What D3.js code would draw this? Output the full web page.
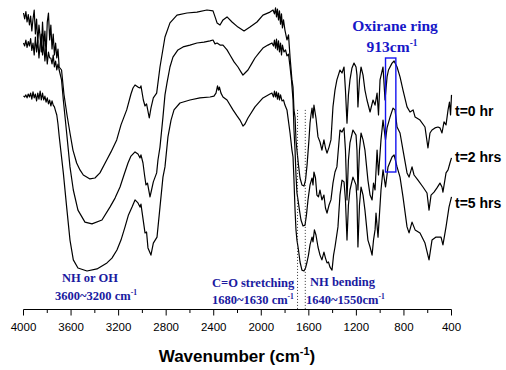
<!DOCTYPE html>
<html><head><meta charset="utf-8">
<script src="https://cdn.jsdelivr.net/npm/d3@7"></script>
<style>body{margin:0;background:#fff}svg{display:block}</style>
</head><body><svg id="c" width="506" height="370"></svg>
<script>
// ---- data (wavenumber cm-1, transmittance a.u.) ----
const xTicks = [4000,3600,3200,2800,2400,2000,1600,1200,800,400];
const xMinor = [3800,3400,3000,2600,2200,1800,1400,1000,600];
const seriesLabels = ["t=0 hr","t=2 hrs","t=5 hrs"];

const spec0 = [[4000,99],[3990,97],[3980,99.5],[3970,96],[3960,98.5],[3950,95],[3940,98],[3930,93],[3920,97],[3910,100],[3900,92],[3890,97],[3880,89],[3870,95],[3860,91],[3850,86],[3840,96],[3830,88],[3820,93],[3810,85],[3800,96],[3790,99],[3780,90],[3770,95],[3760,87],[3750,92],[3740,85],[3730,89],[3720,84],[3710,87],[3700,81],
[3680,80],[3660,72],[3634,65],[3609,59],[3584,53.3],[3553,49],[3525,46.7],[3497,45],[3441,43.7],[3399,44],[3357,45.7],[3300,50],[3264,52.7],[3216,56.7],[3180,61.7],[3132,66.7],[3096,72],[3079,74],[3062,75],[3037,74.3],[3020,74],[3012,74.7],[2992,70],[2978,68],[2965,68.7],[2942,64],[2928,67.3],[2908,70.7],[2880,72.3],[2852,81],[2810,91],[2768,95.7],[2709,98.3],[2625,99],[2541,99.3],[2457,100],[2406,99.7],[2385,97.3],[2372,95.7],[2347,95],[2322,96.7],[2288,97.7],[2246,96],[2196,94.3],[2145,93],[2095,94.3],[2036,96],[1986,98.3],[1927,99.3],[1901,100],
[1889,98.7],[1880,100.7],[1872,97.7],[1864,100.3],[1855,96.7],[1847,99.7],[1838,95.3],[1830,98.7],[1822,94],[1813,96.7],[1801,93.3],[1784,90],[1771,91.7],[1758,84.3],[1742,76.7],[1733,74.3],[1725,66.7],[1716,64.3],[1708,56.7],[1700,53.3],[1687,48.3],[1674,44],[1658,41.7],[1641,41.3],[1628,43.3],[1615,48.3],[1599,56.7],[1590,62.3],[1582,65],[1573,67.3],[1565,64],[1557,68.3],[1548,66],[1540,64],[1523,57.7],[1506,56],[1490,53.3],[1473,56.7],[1460,54],[1447,52.3],[1430,54.3],[1414,56.7],[1397,67.7],[1380,73.3],[1364,76.7],[1338,80],[1321,79],[1304,81],[1292,73.3],[1279,62.3],[1267,71.7],[1254,76.7],[1237,80.7],[1220,82.3],[1203,81],[1195,78.3],[1187,67.7],[1174,76.7],[1161,81],[1144,78.3],[1128,73.3],[1111,70],[1085,66],[1060,70],[1043,68.3],[1026,72.3],[1014,65],[1001,76.7],[976,81],[959,70],[942,77.7],[930,80],[900,82.3],[883,83],[858,81],[833,77.7],[808,73.3],[774,67.7],[749,66],[723,66.7],[706,64.3],[665,63.3],[623,61],[598,54],[581,59],[564,60],[539,60.7],[514,61],[497,60.7],[480,59],[463,62.7],[446,61.7],[429,66.7],[417,69.3],[408,65],[400,71.7]];

const spec2 = [[4000,89],[3990,88],[3980,90],[3970,87.5],[3960,89.5],[3950,88],[3940,90.5],[3930,86.5],[3920,89],[3910,85],[3900,91],[3890,86],[3880,90],[3870,84],[3860,88.5],[3850,92],[3840,85],[3830,89],[3820,83],[3810,87],[3800,82],[3790,86],[3780,84],[3770,84],[3760,82],[3750,85],[3740,81],[3730,83],[3720,80],[3710,82],[3700,80],
[3680,76.7],[3665,70],[3637,59],[3609,47.7],[3581,40],[3542,33.3],[3483,29.3],[3424,28.7],[3340,30],[3273,34.3],[3230,37.3],[3188,41],[3155,45],[3121,49],[3096,51.3],[3062,52.7],[3037,52],[3020,50.7],[3012,51.7],[2995,49],[2982,45],[2970,41.7],[2957,42.3],[2936,37.7],[2923,40],[2908,42.7],[2880,45.7],[2869,50],[2852,54.3],[2827,64.3],[2810,71.7],[2793,75.7],[2768,81],[2743,84.3],[2701,86.7],[2658,87.7],[2600,88.3],[2541,89],[2482,89.3],[2431,89.7],[2406,90],[2389,88.7],[2372,89],[2347,88.3],[2322,88.3],[2288,86.7],[2263,85],[2229,82.7],[2196,81],[2170,79.3],[2154,78.3],[2137,79],[2112,80],[2078,82.3],[2053,84],[2019,85.7],[1986,87.3],[1944,88.3],[1910,89],
[1897,88],[1889,90],[1880,87.3],[1872,90.3],[1864,86.7],[1855,89.7],[1847,86],[1838,89],[1830,85],[1822,88.3],[1809,86],[1796,86.7],[1784,84.7],[1771,85.3],[1758,81],[1746,76.7],[1733,70],[1725,60],[1716,53.3],[1708,45],[1700,39],[1691,36.7],[1679,33.3],[1666,30],[1649,28],[1632,28.3],[1620,31.7],[1607,36.7],[1590,41.7],[1573,44],[1565,41.7],[1557,46],[1544,44],[1532,38.3],[1519,37.7],[1506,40],[1490,36.7],[1473,38.3],[1460,34],[1447,32.3],[1430,35],[1414,36.7],[1397,42.3],[1380,46],[1364,47.7],[1338,60],[1321,59.3],[1304,60.7],[1292,53.3],[1279,36.7],[1267,50],[1254,55.7],[1229,60],[1203,58.3],[1195,53.3],[1187,40],[1174,53.3],[1161,59],[1144,56.7],[1128,53.3],[1103,43.3],[1085,38.3],[1068,36.7],[1056,42.3],[1043,40],[1026,53.3],[1014,45],[993,56.7],[976,63.3],[955,56.7],[942,60.7],[917,64.3],[892,67.3],[875,66.7],[858,61],[833,59],[808,53.3],[774,45.7],[757,44.3],[732,47.7],[715,45],[682,43.3],[640,41],[606,39],[589,33.3],[572,38.3],[547,39.3],[522,40.7],[497,42.3],[480,41],[472,39.3],[446,45.7],[429,46.7],[413,49],[400,50.7]];

const spec5 = [[4000,71.3],[3990,71],[3980,71.7],[3970,70.7],[3960,72],[3950,71],[3940,72.3],[3930,70.3],[3920,72.7],[3910,70.7],[3900,72],[3890,69.7],[3880,72.3],[3870,70.3],[3860,73],[3850,70],[3840,72.3],[3830,70],[3820,71.3],[3810,69.3],[3800,70.7],[3790,68.7],[3780,70],[3770,68],[3760,69.7],[3750,68.3],[3740,67.7],[3730,66.3],[3720,65],[3710,62],[3700,58],
[3665,45.7],[3637,34.3],[3609,23.3],[3581,16.7],[3542,14],[3466,13],[3382,13.7],[3298,15.7],[3256,17.3],[3214,20],[3180,23.3],[3146,27.7],[3117,31.7],[3087,34.3],[3062,36.7],[3037,35.7],[3020,34.3],[3012,35.3],[3003,32.7],[2978,25.7],[2965,26],[2953,20.7],[2928,18.3],[2908,22.3],[2877,24.3],[2852,34.3],[2827,44.3],[2810,47.7],[2785,57.7],[2759,63.3],[2734,66.7],[2684,69],[2600,70],[2516,70.7],[2431,71],[2398,71.3],[2381,72.3],[2368,74.7],[2360,73.3],[2352,74.3],[2339,72.3],[2322,71],[2288,70],[2238,66.7],[2204,64.7],[2179,63.3],[2154,61.3],[2137,62],[2112,64],[2053,67.7],[1986,70.7],[1927,72],
[1910,72.3],[1897,71],[1889,73],[1880,71],[1872,72.7],[1864,70.3],[1855,72.3],[1847,70],[1838,71.7],[1826,69.7],[1813,70],[1801,68.3],[1784,66.7],[1758,59],[1742,53.3],[1733,51],[1725,43.3],[1716,33.3],[1708,26.7],[1700,23.3],[1687,20],[1674,16],[1658,13.3],[1641,13],[1628,14],[1615,16],[1603,18.3],[1590,21.7],[1573,24.3],[1565,22.7],[1553,26.7],[1540,25],[1523,21],[1506,18.3],[1490,16.7],[1473,19.3],[1460,17.3],[1447,15.7],[1435,16],[1422,14.3],[1405,13.3],[1392,18.3],[1380,21],[1355,27.7],[1338,38.3],[1321,43.3],[1304,42.7],[1292,36.7],[1279,23.3],[1267,35],[1254,40],[1229,44.3],[1203,41.7],[1195,36.7],[1187,21],[1174,35],[1161,41],[1144,38.3],[1128,33.3],[1103,23.3],[1085,21],[1068,18.3],[1056,23.3],[1043,26.7],[1035,32.3],[1018,24.3],[993,40],[976,46.7],[955,41],[934,47.7],[900,51],[883,51.7],[858,47.7],[833,44.3],[808,37.7],[774,27.7],[757,25.7],[732,29.3],[706,26.7],[665,25.7],[623,22.3],[589,16.7],[564,23.3],[530,24.3],[488,24.3],[472,21.7],[446,27.7],[421,34.3],[400,37.7]];

const spectra = [spec0, spec2, spec5];
const dottedLines = [1695, 1630];      // cm-1
const oxiraneBox = [955, 868, 84, 46]; // cm-1 range, a.u. range

// ---- drawing ----
const svg = d3.select("#c");
const x = d3.scaleLinear().domain([4000,400]).range([23.5,451.5]);
const y = d3.scaleLinear().domain([0,100]).range([310,10]);
const axisY = 309.5;

const line = d3.line().x(d=>x(d[0])).y(d=>y(d[1]));
svg.selectAll("path.spec").data(spectra).join("path")
  .attr("class","spec").attr("d",line)
  .attr("fill","none").attr("stroke","#000").attr("stroke-width",1.2)
  .attr("stroke-linejoin","round");

// dotted guide lines
svg.selectAll("line.dot").data(dottedLines).join("line")
  .attr("x1",d=>x(d)).attr("x2",d=>x(d))
  .attr("y1",y(66.7)).attr("y2",axisY)
  .attr("stroke","#333").attr("stroke-width",1).attr("stroke-dasharray","1,2");

// oxirane box
svg.append("rect")
  .attr("x",x(oxiraneBox[0])).attr("width",x(oxiraneBox[1])-x(oxiraneBox[0]))
  .attr("y",y(oxiraneBox[2])).attr("height",y(oxiraneBox[3])-y(oxiraneBox[2]))
  .attr("fill","none").attr("stroke","#1414f0").attr("stroke-width",1.4);

// axis
const ax = svg.append("g").attr("transform",`translate(0,${axisY})`);
ax.append("line").attr("x1",x(4000)).attr("x2",x(400)).attr("stroke","#000").attr("stroke-width",1.1);
ax.selectAll("line.maj").data(xTicks).join("line").attr("class","maj")
  .attr("x1",d=>x(d)).attr("x2",d=>x(d)).attr("y1",0).attr("y2",6).attr("stroke","#000");
ax.selectAll("line.min").data(xMinor).join("line").attr("class","min")
  .attr("x1",d=>x(d)).attr("x2",d=>x(d)).attr("y1",0).attr("y2",3.5).attr("stroke","#000");
ax.selectAll("text").data(xTicks).join("text")
  .attr("x",d=>x(d)).attr("y",21).attr("text-anchor","middle")
  .attr("font-family","Liberation Sans, Arial, sans-serif").attr("font-size",11.5)
  .text(d=>d);

// axis title
const tt = svg.append("text").attr("x",237).attr("y",362).attr("text-anchor","middle")
  .attr("font-family","Liberation Sans, Arial, sans-serif").attr("font-weight","bold").attr("font-size",17);
tt.append("tspan").text("Wavenumber (cm");
tt.append("tspan").attr("dy",-7).attr("font-size",11).text("-1");
tt.append("tspan").attr("dy",7).text(")");

// series labels
svg.selectAll("text.lab").data(seriesLabels).join("text").attr("class","lab")
  .attr("x",455).attr("y",(d,i)=>[116,162,208][i])
  .attr("font-family","Liberation Sans, Arial, sans-serif").attr("font-weight","bold").attr("font-size",14)
  .text(d=>d);

// annotations
const serif = "Liberation Serif, Times New Roman, serif";
function ann(tx, ty, anchor, size, color, main, sup){
  const t = svg.append("text").attr("x",tx).attr("y",ty).attr("text-anchor",anchor)
    .attr("font-family",serif).attr("font-weight","bold").attr("font-size",size).attr("fill",color);
  t.append("tspan").text(main);
  if(sup){ t.append("tspan").attr("dy",-size*0.4).attr("font-size",size*0.6).text(sup); }
}
ann(395,31,"middle",15.5,"#1717c8","Oxirane ring");
ann(392,52,"middle",15.5,"#1717c8","913cm","-1");
ann(90,282,"middle",12.5,"#1a1aa0","NH or OH");
ann(96,300,"middle",12.5,"#1a1aa0","3600~3200 cm","-1");
ann(212,287,"start",12.5,"#1a1aa0","C=O stretching");
ann(212,304,"start",12.5,"#1a1aa0","1680~1630 cm","-1");
ann(310,286,"start",12.5,"#1a1aa0","NH bending");
ann(306,304,"start",12.5,"#1a1aa0","1640~1550cm","-1");
</script></body></html>
